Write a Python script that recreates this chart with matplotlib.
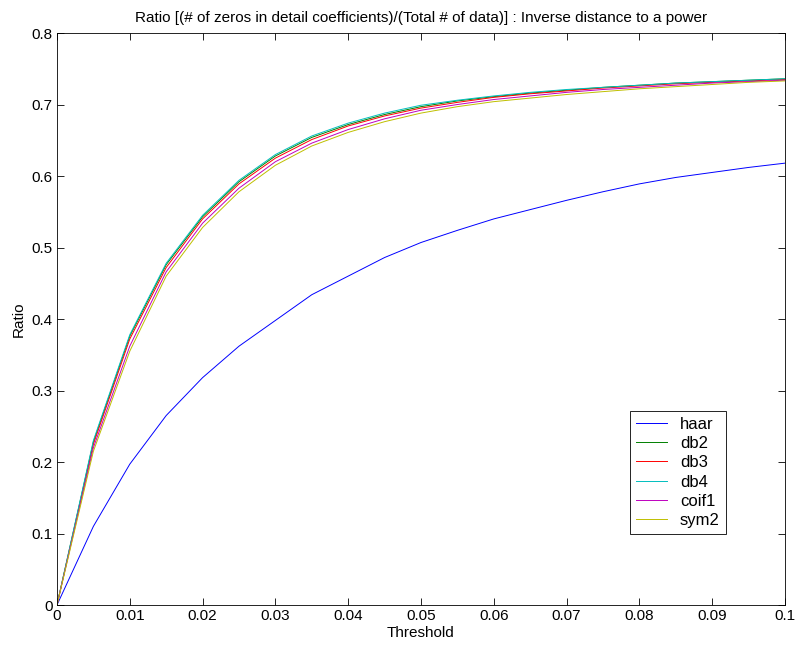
import matplotlib
matplotlib.use('Agg')
import matplotlib.pyplot as plt
import numpy as np

plt.rcParams['font.family'] = ['Liberation Sans', 'DejaVu Sans']

threshold = [0, 0.005, 0.01, 0.015, 0.02, 0.025, 0.03, 0.035, 0.04, 0.045, 0.05,
             0.055, 0.06, 0.065, 0.07, 0.075, 0.08, 0.085, 0.09, 0.095, 0.1]

haar = [0, 0.110, 0.197, 0.265, 0.318, 0.362, 0.398, 0.434, 0.460, 0.486, 0.507,
        0.524, 0.540, 0.553, 0.566, 0.578, 0.589, 0.598, 0.605, 0.612, 0.618]
db2 = [0, 0.228, 0.376, 0.476, 0.543, 0.592, 0.628, 0.654, 0.672, 0.686, 0.697,
       0.705, 0.711, 0.716, 0.720, 0.724, 0.727, 0.730, 0.732, 0.734, 0.736]
db3 = [0, 0.225, 0.372, 0.472, 0.540, 0.589, 0.625, 0.651, 0.670, 0.684, 0.695,
       0.703, 0.710, 0.715, 0.719, 0.723, 0.726, 0.729, 0.731, 0.733, 0.735]
db4 = [0, 0.230, 0.378, 0.478, 0.545, 0.594, 0.630, 0.656, 0.674, 0.688, 0.699,
       0.706, 0.712, 0.717, 0.721, 0.724, 0.727, 0.730, 0.732, 0.734, 0.736]
coif1 = [0, 0.220, 0.362, 0.466, 0.534, 0.583, 0.620, 0.646, 0.665, 0.680, 0.692,
         0.700, 0.707, 0.712, 0.717, 0.721, 0.724, 0.727, 0.730, 0.732, 0.734]
sym2 = [0, 0.215, 0.355, 0.460, 0.528, 0.578, 0.615, 0.642, 0.661, 0.676, 0.688,
        0.697, 0.704, 0.709, 0.714, 0.718, 0.722, 0.725, 0.728, 0.731, 0.733]

names = ['haar', 'db2', 'db3', 'db4', 'coif1', 'sym2']
series = [haar, db2, db3, db4, coif1, sym2]
colors = ['#0000ff', '#008000', '#ff0000', '#00bfbf', '#bf00bf', '#bfbf00']

fig = plt.figure(figsize=(7.98, 6.55), dpi=100)
ax = fig.add_axes([0.0714, 0.0763, 0.9123, 0.8733])

for name, s, c in zip(names, series, colors):
    ax.plot(threshold, s, color=c, linewidth=0.7, label=name)

ax.set_xlim(0, 0.1)
ax.set_ylim(0, 0.8)
ax.set_xticks(np.arange(0, 0.1001, 0.01))
ax.set_xticklabels(['0', '0.01', '0.02', '0.03', '0.04', '0.05', '0.06', '0.07', '0.08', '0.09', '0.1'])
ax.set_yticks(np.arange(0, 0.8001, 0.1))
ax.set_yticklabels(['0', '0.1', '0.2', '0.3', '0.4', '0.5', '0.6', '0.7', '0.8'])
ax.tick_params(direction='in', top=True, right=True, labelsize=11, length=5, width=0.6, pad=3)
for sp in ax.spines.values():
    sp.set_linewidth(0.6)

ax.set_xlabel('Threshold', fontsize=11, labelpad=2)
ax.set_ylabel('Ratio', fontsize=11, labelpad=4)
ax.set_title('Ratio [(# of zeros in detail coefficients)/(Total # of data)] : Inverse distance to a power',
             fontsize=11, pad=8)

leg = ax.legend(loc='lower left', bbox_to_anchor=(0.787, 0.124), borderaxespad=0, fontsize=12,
                fancybox=False, framealpha=1, edgecolor='black', borderpad=0.35, labelspacing=0.26,
                handlelength=1.9, handletextpad=0.75)
leg.get_frame().set_linewidth(0.6)

fig.savefig('out.png', dpi=100)
